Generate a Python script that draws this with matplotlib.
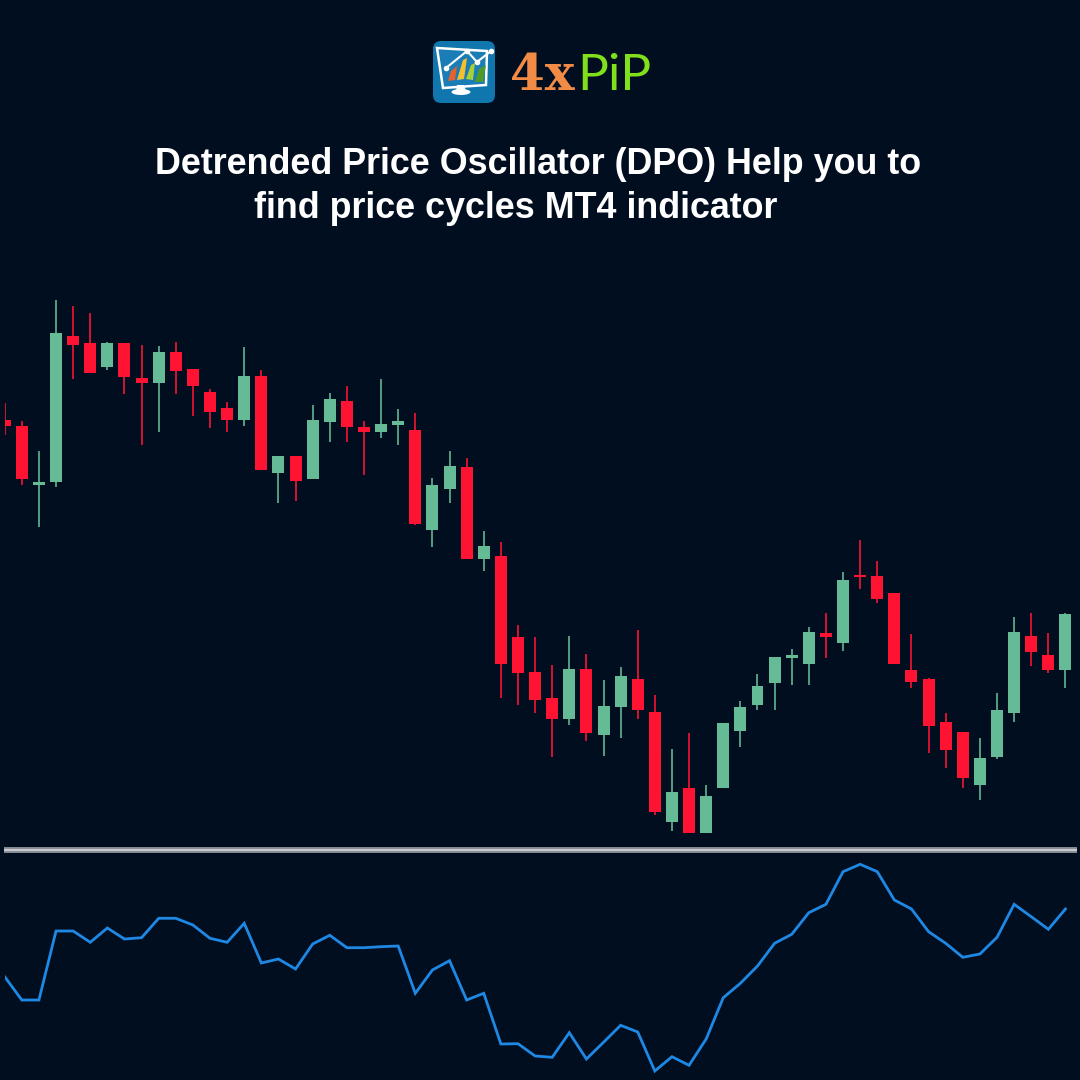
import matplotlib
matplotlib.use('Agg')
import matplotlib.pyplot as plt
from matplotlib.lines import Line2D
from matplotlib.patches import FancyBboxPatch, Polygon, Ellipse

# candles, oldest first
highs = [596.7, 579, 549, 700, 694, 686.7, 658.3, 657, 655, 654, 658.3, 630.7, 611, 597.7, 652.7, 630,
         544.3, 544.3, 595, 606.7, 614, 579.3, 621, 590.7, 587.3, 522.3, 549, 541.7, 469, 458.3, 375.3, 362.7,
         334.7, 364, 346.3, 319.7, 333.3, 369.7, 304.7, 251.3, 267.3, 214.7, 277, 298.7, 325.7, 343.3,
         350.7, 372.7, 387.3, 427.7, 460, 439.3, 407, 365.7, 322.3, 287.3, 268, 261.7, 306.7, 383.3,
         386.7, 367.3, 387.3]
lows = [564.7, 515, 473.3, 513.3, 621, 627.3, 630, 606.3, 554.7, 567.7, 606.3, 584.3, 572.3, 568, 574, 529.7,
        496.7, 498.7, 520.7, 557.7, 557.7, 525.3, 561.7, 554.7, 474.7, 452.7, 496.7, 441, 429, 301.7, 295, 287.3,
        242.7, 275, 259, 244, 261.7, 281, 185, 168.7, 167.3, 167.3, 211.7, 252.7, 290, 290,
        314.7, 315, 342, 349, 410.7, 396.7, 336, 312.3, 247, 232.3, 211.7, 200, 241.3, 278,
        334.3, 326.7, 312.3]
opens = [580, 574.3, 515, 518, 664.3, 657, 633, 657, 621.7, 617, 648, 630.7, 608, 591.7, 580, 624,
         526.7, 544.3, 520.7, 578.3, 599, 572.7, 568, 575.3, 569.7, 470.3, 510.7, 532.7, 441, 443.7, 362.7, 328.3,
         301.7, 281, 331.3, 265, 293, 321, 288.3, 178, 211.7, 167.3, 211.7, 269.3, 294.7, 316.7,
         341.7, 336, 366.7, 356.7, 425.3, 424.3, 407, 330, 321, 278, 268, 214.7, 242.7, 287.3,
         363.7, 344.7, 330]
closes = [574, 520.7, 518, 667.3, 655.3, 627.3, 657, 623, 616.7, 648, 629, 614, 587.7, 580, 624, 529.7,
          544.3, 519.3, 580, 600.7, 572.7, 568, 575.7, 579, 476.3, 514.7, 534, 441, 454, 336, 327, 300.3,
          281, 331.3, 266.7, 294.3, 324, 290, 188, 208.3, 167.3, 204, 277, 293, 314, 343.3,
          345, 368.3, 362.7, 420, 423, 401, 336, 318, 274, 250.3, 222, 242.3, 289.7, 368.3,
          348, 330, 386.3]

# oscillator, one value per candle
dpo = [-16.7, -40, -40, 29, 29, 17.7, 32, 21, 22.3, 41.7, 41.7, 35, 21.7, 17.7, 36.7, -3,
       1, -9, 16, 24.7, 12.3, 12.3, 13.3, 14, -33.3, -10, -0.7, -40, -33.3, -84, -83.7, -96,
       -97.3, -72.7, -99, -82.3, -65.3, -72, -111, -96.7, -105.3, -79, -37.7, -23.3, -6, 16.7,
       25.7, 47.3, 55.7, 88.3, 95.7, 88.3, 60, 51, 28.3, 16.7, 2.7, 6, 22.7, 55.7,
       43.3, 30.7, 51]

title_lines = ['Detrended Price Oscillator (DPO) Help you to', 'find price cycles MT4 indicator']

BG = '#010e20'
UP = '#64bb95'
DOWN = '#fe1333'
W = H = 1080


def box(left, top, width, height):
    # axes rectangle from pixel position, y counted from the top
    return [left / W, 1 - (top + height) / H, width / W, height / H]


fig = plt.figure(figsize=(10.8, 10.8), dpi=100, facecolor=BG)

# price panel
ax = fig.add_axes(box(4.7, 250, 1075.3, 595))
ax.set_facecolor(BG)
x = list(range(len(highs)))
colors = [UP if c >= o else DOWN for o, c in zip(opens, closes)]
ax.vlines(x, lows, highs, colors=colors, linewidth=1.3, alpha=0.9)
bottoms = [min(o, c) for o, c in zip(opens, closes)]
heights = [abs(c - o) for o, c in zip(opens, closes)]
ax.bar(x, heights, bottom=bottoms, width=0.7, color=colors, linewidth=0)
ax.set_xlim(0, 62.85)
ax.set_ylim(155, 750)
ax.axis('off')

# panel separator
fig.add_artist(Line2D([4 / W, 1077 / W], [1 - 849.5 / H] * 2, color='#8d9298', lw=4.2, solid_capstyle='butt'))
fig.add_artist(Line2D([4 / W, 1077 / W], [1 - 849.5 / H] * 2, color='#d8dadc', lw=1.1, solid_capstyle='butt'))

# oscillator panel
ax2 = fig.add_axes(box(4.7, 852, 1075.3, 228))
ax2.set_facecolor(BG)
ax2.plot(x, dpo, color='#1e88e5', lw=2.0, solid_joinstyle='miter')
ax2.set_xlim(0, 62.85)
ax2.set_ylim(-120, 108)
ax2.axis('off')

# title
fig.text(155 / W, 1 - 165 / H, title_lines[0], color='white', fontsize=25.85, fontweight='bold',
         family='Liberation Sans', va='center', ha='left')
fig.text(254 / W, 1 - 208 / H, title_lines[1], color='white', fontsize=25.85, fontweight='bold',
         family='Liberation Sans', va='center', ha='left')

# logo badge
logo = fig.add_axes(box(433, 41, 62, 62))
logo.set_xlim(0, 62)
logo.set_ylim(62, 0)
logo.axis('off')
logo.add_patch(FancyBboxPatch((0, 0), 62, 62, boxstyle='round,pad=0,rounding_size=8', color='#0f76ae', lw=0))
logo.add_patch(Polygon([(4, 7), (54, 10), (53, 44), (10, 47)], closed=True, fc='#1a7db5', ec='white', lw=1.8))
logo.add_patch(Polygon([(15, 40), (18, 30), (24, 25), (22, 39)], closed=True, color='#e8612c', lw=0))
logo.add_patch(Polygon([(24, 39), (30, 19), (34, 17), (31, 38)], closed=True, color='#f3c12f', lw=0))
logo.add_patch(Polygon([(33, 38), (38, 24), (42, 22), (40, 39)], closed=True, color='#a7cf3a', lw=0))
logo.add_patch(Polygon([(42, 41), (46, 28), (53, 24), (50, 41)], closed=True, color='#4c9a2a', lw=0))
logo.plot([13, 34, 44, 58], [27, 10, 21, 10], color='white', lw=1.5)
logo.plot([13, 34, 44, 58], [27, 10, 21, 10], 'o', color='white', ms=3)
logo.add_patch(Polygon([(24, 44), (31, 44), (33, 50), (23, 50)], closed=True, color='white', lw=0))
logo.add_patch(Ellipse((28, 51), 19, 6, color='white', lw=0))

# wordmark
fig.text(510 / W, 1 - 90 / H, '4x', color='#f28b45', fontsize=36, fontweight='bold',
         family='DejaVu Serif', va='baseline', ha='left')
fig.text(577 / W, 1 - 90.5 / H, 'PiP', color='#7fe01b', fontsize=37, family='Lato',
         va='baseline', ha='left')

fig.savefig('out.png', dpi=100, facecolor=BG)
